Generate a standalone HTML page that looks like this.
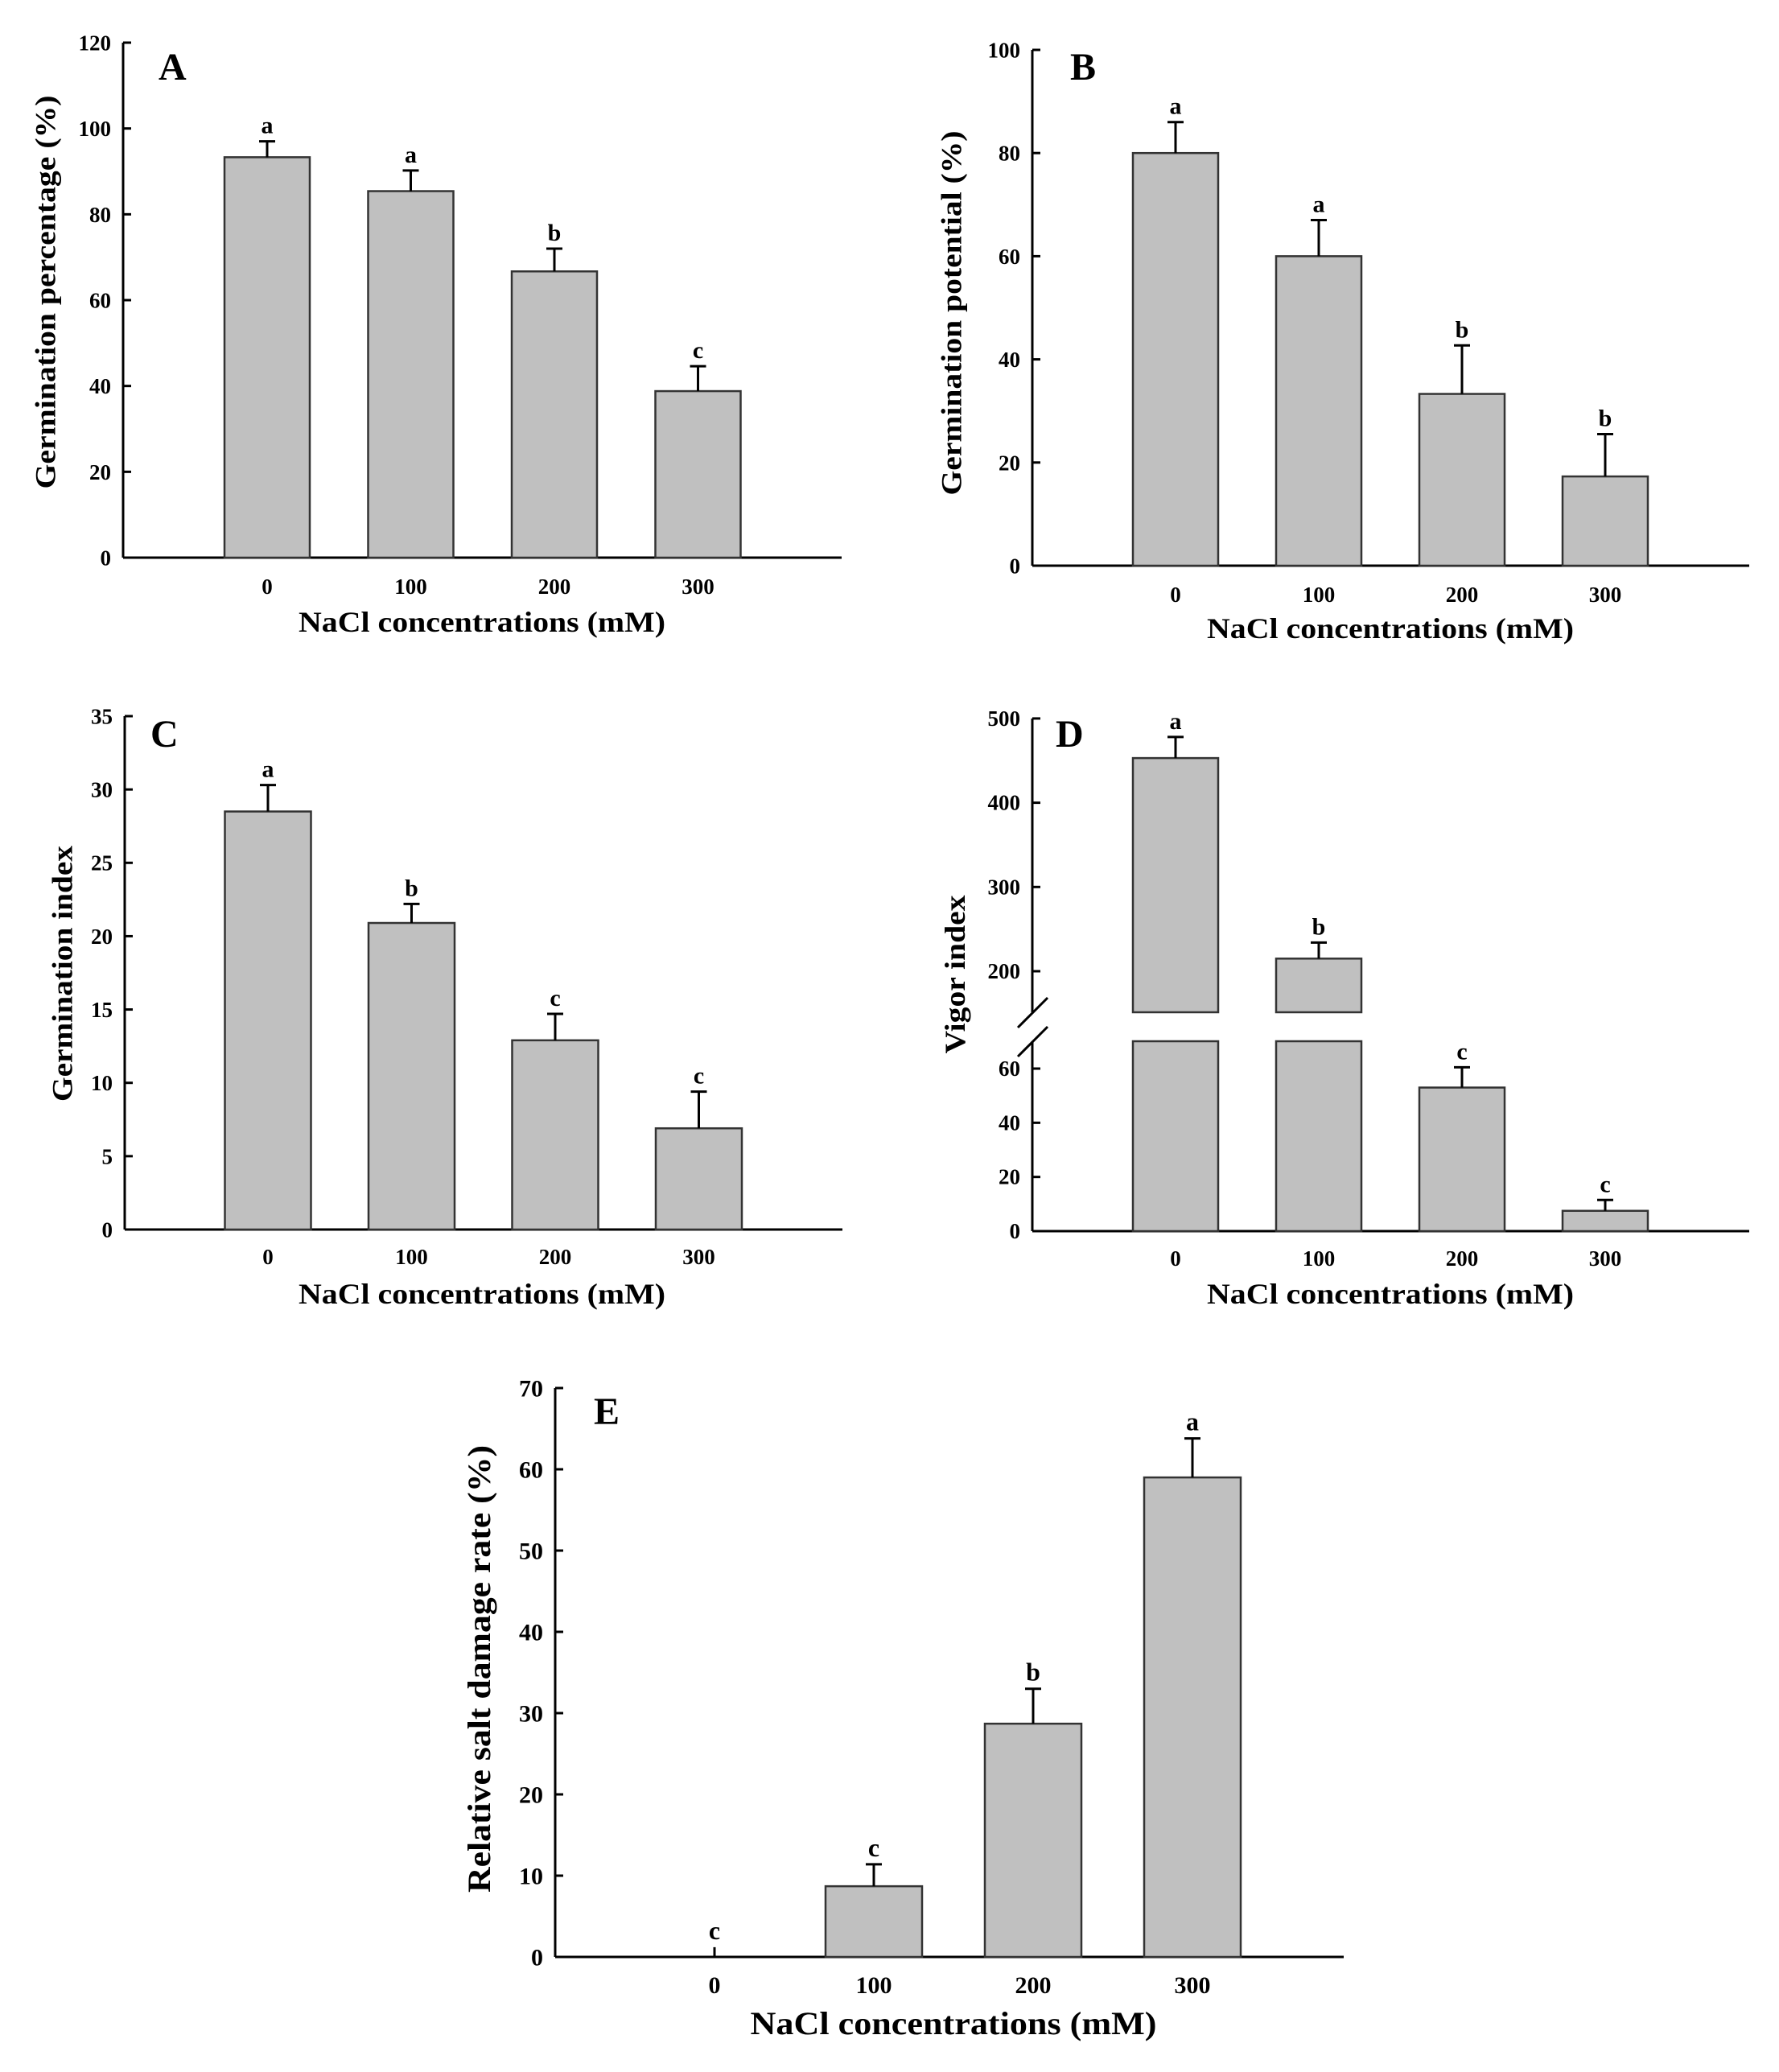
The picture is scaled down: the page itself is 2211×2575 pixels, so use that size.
<!DOCTYPE html>
<html><head><meta charset="utf-8"><style>
html,body{margin:0;padding:0;background:#fff;}
svg{display:block;font-family:"Liberation Serif",serif;font-weight:bold;}
</style></head><body>
<svg id="fig" width="2211" height="2575" viewBox="0 0 2211 2575" xmlns="http://www.w3.org/2000/svg"></svg>
<script>
const categories = ["0","100","200","300"];
const aValues = [93.3, 85.4, 66.7, 38.8];
const aErrors = [3.7, 4.8, 5.3, 5.8];
const aLetters = ["a","a","b","c"];
const aTicks = [0,20,40,60,80,100,120];
const bValues = [80, 60, 33.3, 17.3];
const bErrors = [6, 7, 9.4, 8.2];
const bLetters = ["a","a","b","b"];
const bTicks = [0,20,40,60,80,100];
const cValues = [28.5, 20.9, 12.9, 6.9];
const cErrors = [1.8, 1.3, 1.8, 2.5];
const cLetters = ["a","b","c","c"];
const cTicks = [0,5,10,15,20,25,30,35];
const dValues = [453, 215, 53, 7.5];
const dErrors = [25, 19, 7.5, 4];
const dLetters = ["a","b","c","c"];
const dLowTicks = [0,20,40,60];
const dHighTicks = [200,300,400,500];
const eValues = [0, 8.7, 28.7, 59];
const eErrors = [1.2, 2.7, 4.3, 4.8];
const eLetters = ["c","c","b","a"];
const eTicks = [0,10,20,30,40,50,60,70];

const NS="http://www.w3.org/2000/svg";
const svg=document.getElementById('fig');
function mk(tag,attrs,parent){const e=document.createElementNS(NS,tag);for(const k in attrs)e.setAttribute(k,attrs[k]);(parent||svg).appendChild(e);return e;}
function txt(s,attrs,parent){const e=mk('text',attrs,parent);e.textContent=s;return e;}

function panel(cfg){
  const g=mk('g',{});
  
  
  const y=v=>cfg.y0-(v-cfg.vmin)/(cfg.vmax-cfg.vmin)*(cfg.y0-cfg.yTop);
  const ax=mk('line',{x1:cfg.ax,y1:cfg.yTop,x2:cfg.ax,y2:cfg.y0,stroke:'#000','stroke-width':3},g);
  
  
  const xa=mk('line',{x1:cfg.ax,y1:cfg.y0,x2:cfg.xEnd,y2:cfg.y0,stroke:'#000','stroke-width':3},g);
  
  
  cfg.ticks.forEach(t=>{
    mk('line',{x1:cfg.ax,y1:y(t),x2:cfg.ax+10,y2:y(t),stroke:'#000','stroke-width':3},g);
    const tl=txt(String(t),{x:cfg.ax-15,y:y(t)+cfg.tf*0.35,'font-size':cfg.tf,'text-anchor':'end'},g);
    
    
  });
  cfg.values.forEach((v,i)=>{
    const cx=cfg.c0+i*cfg.step;
    if(v>0){
      const r=mk('rect',{x:cx-cfg.bw/2,y:y(v),width:cfg.bw,height:cfg.y0-y(v),fill:'#c0c0c0',stroke:'#333','stroke-width':2.5},g);
      
      
    }
    const top=y(v+cfg.errors[i]);
    mk('line',{x1:cx,y1:y(v),x2:cx,y2:top,stroke:'#000','stroke-width':3},g);
    if(v>0) mk('line',{x1:cx-10,y1:top,x2:cx+10,y2:top,stroke:'#000','stroke-width':3},g);
    const lt=txt(cfg.letters[i],{x:cx,y:top-10,'font-size':cfg.lf,'text-anchor':'middle'},g);
    
    
    const xl=txt(categories[i],{x:cx,y:cfg.xlY,'font-size':cfg.tf,'text-anchor':'middle'},g);
    
    
  });
  const xt=txt('NaCl concentrations (mM)',{x:cfg.xtX,y:cfg.xtY,'font-size':cfg.xf,'text-anchor':'middle',textLength:cfg.xtW,lengthAdjust:'spacingAndGlyphs'},g);
  
  
  const yt=txt(cfg.ytitle,{x:0,y:0,'font-size':cfg.yf,'text-anchor':'middle',textLength:cfg.ytW,lengthAdjust:'spacingAndGlyphs',transform:`translate(${cfg.ytX+cfg.yf*0.35},${cfg.ytY}) rotate(-90)`},g);
  
  
  const pl=txt(cfg.label,{x:cfg.lx,y:cfg.ly,'font-size':48},g);
  
  
}

panel({name:'panel-a',ax:153,yTop:53,y0:693,vmin:0,vmax:120,xEnd:1046,ticks:aTicks,tf:27,lf:30,values:aValues,errors:aErrors,letters:aLetters,
 c0:332,step:178.5,bw:106,xlY:738,xtX:599,xtY:785,xtW:456,xf:36,ytitle:'Germination percentage (%)',ytX:56,ytY:363,ytW:489,yf:36,label:'A',lx:197,ly:99});
panel({name:'panel-b',ax:1283,yTop:62,y0:703,vmin:0,vmax:100,xEnd:2174,ticks:bTicks,tf:27,lf:30,values:bValues,errors:bErrors,letters:bLetters,
 c0:1461,step:178,bw:106,xlY:748,xtX:1728,xtY:793,xtW:456,xf:36,ytitle:'Germination potential (%)',ytX:1182,ytY:389,ytW:453,yf:36,label:'B',lx:1330,ly:99});
panel({name:'panel-c',ax:155,yTop:890,y0:1528,vmin:0,vmax:35,xEnd:1047,ticks:cTicks,tf:27,lf:30,values:cValues,errors:cErrors,letters:cLetters,
 c0:333,step:178.5,bw:107,xlY:1571,xtX:599,xtY:1620,xtW:456,xf:36,ytitle:'Germination index',ytX:77,ytY:1210,ytW:318,yf:36,label:'C',lx:187,ly:928});

(function(){
  const g=mk('g',{});
  
  
  const ax=1283,y0=1530,xEnd=2174,c0=1461,step=178,bw=106;
  const lowTop=1294,lowMax=70,upBot=1258;
  const yLow=v=>y0-v*(y0-1328)/60;
  const yHigh=v=>1207-(v-200)*1.047;
  const yv=v=>v<=lowMax?yLow(v):yHigh(v);
  const a1=mk('line',{x1:ax,y1:yHigh(500),x2:ax,y2:upBot,stroke:'#000','stroke-width':3},g);
  
  
  const a2=mk('line',{x1:ax,y1:lowTop,x2:ax,y2:y0,stroke:'#000','stroke-width':3},g);
  
  
  const b1=mk('line',{x1:1265,y1:1277,x2:1302,y2:1240,stroke:'#000','stroke-width':3},g);
  
  
  const b2=mk('line',{x1:1265,y1:1313,x2:1302,y2:1276,stroke:'#000','stroke-width':3},g);
  
  
  const xa=mk('line',{x1:ax,y1:y0,x2:xEnd,y2:y0,stroke:'#000','stroke-width':3},g);
  
  
  const ticks=dLowTicks.map(t=>[t,yLow(t)]).concat(dHighTicks.map(t=>[t,yHigh(t)]));
  ticks.forEach(([t,yy])=>{
    mk('line',{x1:ax,y1:yy,x2:ax+10,y2:yy,stroke:'#000','stroke-width':3},g);
    const tl=txt(String(t),{x:ax-15,y:yy+9,'font-size':27,'text-anchor':'end'},g);
    
    
  });
  dValues.forEach((v,i)=>{
    const cx=c0+i*step;
    if(v>lowMax){
      const r1=mk('rect',{x:cx-bw/2,y:lowTop,width:bw,height:y0-lowTop,fill:'#c0c0c0',stroke:'#333','stroke-width':2.5},g);
      
      
      const r2=mk('rect',{x:cx-bw/2,y:yHigh(v),width:bw,height:upBot-yHigh(v),fill:'#c0c0c0',stroke:'#333','stroke-width':2.5},g);
      
      
    } else {
      const r=mk('rect',{x:cx-bw/2,y:yLow(v),width:bw,height:y0-yLow(v),fill:'#c0c0c0',stroke:'#333','stroke-width':2.5},g);
      
      
    }
    const top=yv(v+dErrors[i]);
    mk('line',{x1:cx,y1:yv(v),x2:cx,y2:top,stroke:'#000','stroke-width':3},g);
    mk('line',{x1:cx-10,y1:top,x2:cx+10,y2:top,stroke:'#000','stroke-width':3},g);
    const lt=txt(dLetters[i],{x:cx,y:top-10,'font-size':30,'text-anchor':'middle'},g);
    
    
    const xl=txt(categories[i],{x:cx,y:1573,'font-size':27,'text-anchor':'middle'},g);
    
    
  });
  const xt=txt('NaCl concentrations (mM)',{x:1728,y:1620,'font-size':36,'text-anchor':'middle',textLength:456,lengthAdjust:'spacingAndGlyphs'},g);
  
  
  const yt=txt('Vigor index',{x:0,y:0,'font-size':36,'text-anchor':'middle',textLength:197,lengthAdjust:'spacingAndGlyphs',transform:'translate(1199,1211) rotate(-90)'},g);
  
  
  const pl=txt('D',{x:1312,y:928,'font-size':48},g);
  
  
})();

panel({name:'panel-e',ax:690,yTop:1725,y0:2432,vmin:0,vmax:70,xEnd:1670,ticks:eTicks,tf:30,lf:32,values:eValues,errors:eErrors,letters:eLetters,
 c0:888,step:198,bw:120,xlY:2477,xtX:1185,xtY:2528,xtW:505,xf:40,ytitle:'Relative salt damage rate (%)',ytX:595,ytY:2074,ytW:556,yf:40,label:'E',lx:738,ly:1770});
</script>
</body></html>
